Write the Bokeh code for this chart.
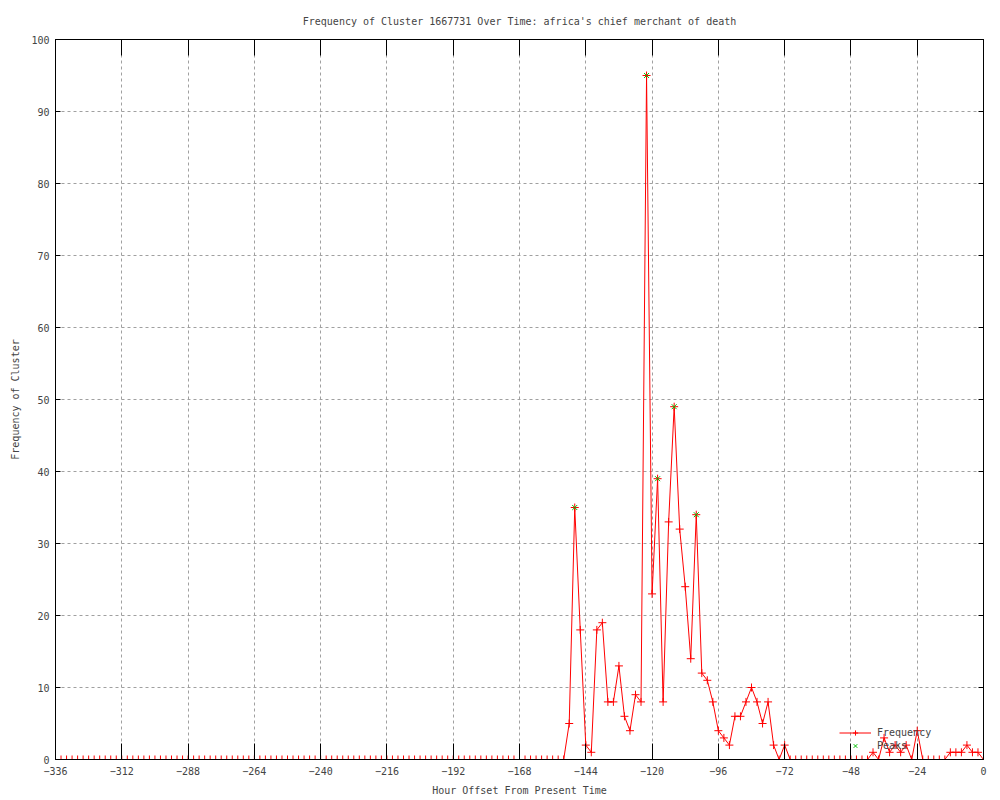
from bokeh.plotting import figure
from bokeh.models import (Range1d, FixedTicker, LinearAxis, Legend, LegendItem,
                          CustomJSTickFormatter)
from bokeh.embed import file_html
from bokeh.resources import INLINE

# ---------------- data ----------------
hours = list(range(-336, 1, 2))  # one sample every 2 hours
freq = [
    0, 0, 0, 0, 0, 0, 0, 0, 0, 0, 0, 0,        # -336 .. -314
    0, 0, 0, 0, 0, 0, 0, 0, 0, 0, 0, 0,        # -312 .. -290
    0, 0, 0, 0, 0, 0, 0, 0, 0, 0, 0, 0,        # -288 .. -266
    0, 0, 0, 0, 0, 0, 0, 0, 0, 0, 0, 0,        # -264 .. -242
    0, 0, 0, 0, 0, 0, 0, 0, 0, 0, 0, 0,        # -240 .. -218
    0, 0, 0, 0, 0, 0, 0, 0, 0, 0, 0, 0,        # -216 .. -194
    0, 0, 0, 0, 0, 0, 0, 0, 0, 0, 0, 0,        # -192 .. -170
    0, 0, 0, 0, 0, 0, 0, 0, 0, 5, 35, 18,      # -168 .. -146
    2, 1, 18, 19, 8, 8, 13, 6, 4, 9, 8, 95,    # -144 .. -122
    23, 39, 8, 33, 49, 32, 24, 14, 34, 12, 11, 8,  # -120 .. -98
    4, 3, 2, 6, 6, 8, 10, 8, 5, 8, 2, 0,       # -96 .. -74
    2, 0, 0, 0, 0, 0, 0, 0, 0, 0, 0, 0,        # -72 .. -50
    0, 0, 0, 0, 1, 0, 3, 1, 2, 1, 2, 0,        # -48 .. -26
    4, 0, 0, 0, 0, 0, 1, 1, 1, 2, 1, 1,        # -24 .. -2
    0,                                         # 0
]
peak_hours = [-148, -122, -118, -112, -104]
peak_values = [35, 95, 39, 49, 34]

x_ticks = [-336, -312, -288, -264, -240, -216, -192, -168, -144, -120, -96, -72, -48, -24, 0]
y_ticks = [0, 10, 20, 30, 40, 50, 60, 70, 80, 90, 100]

FONT = "DejaVu Sans Mono"
FS = "10px"

p = figure(width=998, height=798, output_backend="svg", toolbar_location=None,
           x_range=Range1d(-336, 0), y_range=Range1d(0, 100),
           min_border_left=55, min_border_right=15, min_border_top=39, min_border_bottom=38,
           title="Frequency of Cluster 1667731 Over Time: africa's chief merchant of death")

p.title.text_font = FONT
p.title.text_font_size = FS
p.title.text_font_style = "normal"
p.title.align = "center"
p.title.standoff = 25

p.outline_line_color = "black"
p.outline_line_width = 1
p.background_fill_color = "white"
p.border_fill_color = "white"

# bottom axis
xa = p.xaxis[0]
xa.ticker = FixedTicker(ticks=x_ticks)
xa.major_tick_in = 16
xa.major_tick_out = 0
xa.minor_tick_line_color = None
xa.major_label_standoff = 7
xa.major_label_text_font = FONT
xa.major_label_text_font_size = FS
xa.axis_label = "Hour Offset From Present Time"
xa.axis_label_text_font = FONT
xa.axis_label_text_font_size = FS
xa.axis_label_text_font_style = "normal"
xa.axis_label_standoff = 7
xa.axis_line_color = "black"
xa.major_tick_line_color = "black"

# left axis
ya = p.yaxis[0]
ya.ticker = FixedTicker(ticks=y_ticks)
ya.major_tick_in = 5
ya.major_tick_out = 0
ya.minor_tick_line_color = None
ya.major_label_standoff = 6
ya.major_label_text_font = FONT
ya.major_label_text_font_size = FS
ya.axis_label = "Frequency of Cluster"
ya.axis_label_text_font = FONT
ya.axis_label_text_font_size = FS
ya.axis_label_text_font_style = "normal"
ya.axis_label_standoff = 7
ya.axis_line_color = "black"
ya.major_tick_line_color = "black"

# mirrored ticks (top / right)
blank = CustomJSTickFormatter(code="return '';")
top = LinearAxis(ticker=FixedTicker(ticks=x_ticks), formatter=blank,
                 major_tick_in=16, major_tick_out=0, minor_tick_line_color=None,
                 major_label_standoff=0, major_label_text_font_size="0px",
                 axis_line_color="black", major_tick_line_color="black")
p.add_layout(top, "above")
right = LinearAxis(ticker=FixedTicker(ticks=y_ticks), formatter=blank,
                   major_tick_in=5, major_tick_out=0, minor_tick_line_color=None,
                   major_label_standoff=0, major_label_text_font_size="0px",
                   axis_line_color="black", major_tick_line_color="black")
p.add_layout(right, "right")

# grid
p.xgrid.ticker = FixedTicker(ticks=x_ticks)
p.ygrid.ticker = FixedTicker(ticks=y_ticks)
for g in (p.xgrid, p.ygrid):
    g.grid_line_color = "#a0a0a0"
    g.grid_line_dash = "3 3"
    g.grid_line_width = 1

# data
ln = p.line(hours, freq, line_color="#ff0000", line_width=1)
pts = p.scatter(hours, freq, marker="cross", size=8, line_color="#ff0000", line_width=1)
pk = p.scatter(peak_hours, peak_values, marker="x", size=7, line_color="#00c000", line_width=1)

legend = Legend(items=[LegendItem(label="Frequency", renderers=[ln, pts]),
                       LegendItem(label="Peaks", renderers=[pk])],
                location=(784, 7), background_fill_alpha=0, border_line_color=None,
                padding=0, margin=0, spacing=0, glyph_width=32, glyph_height=13,
                label_height=13, label_standoff=6, label_text_font=FONT,
                label_text_font_size=FS)
p.add_layout(legend)

open("out.html", "w").write(file_html(p, INLINE))
